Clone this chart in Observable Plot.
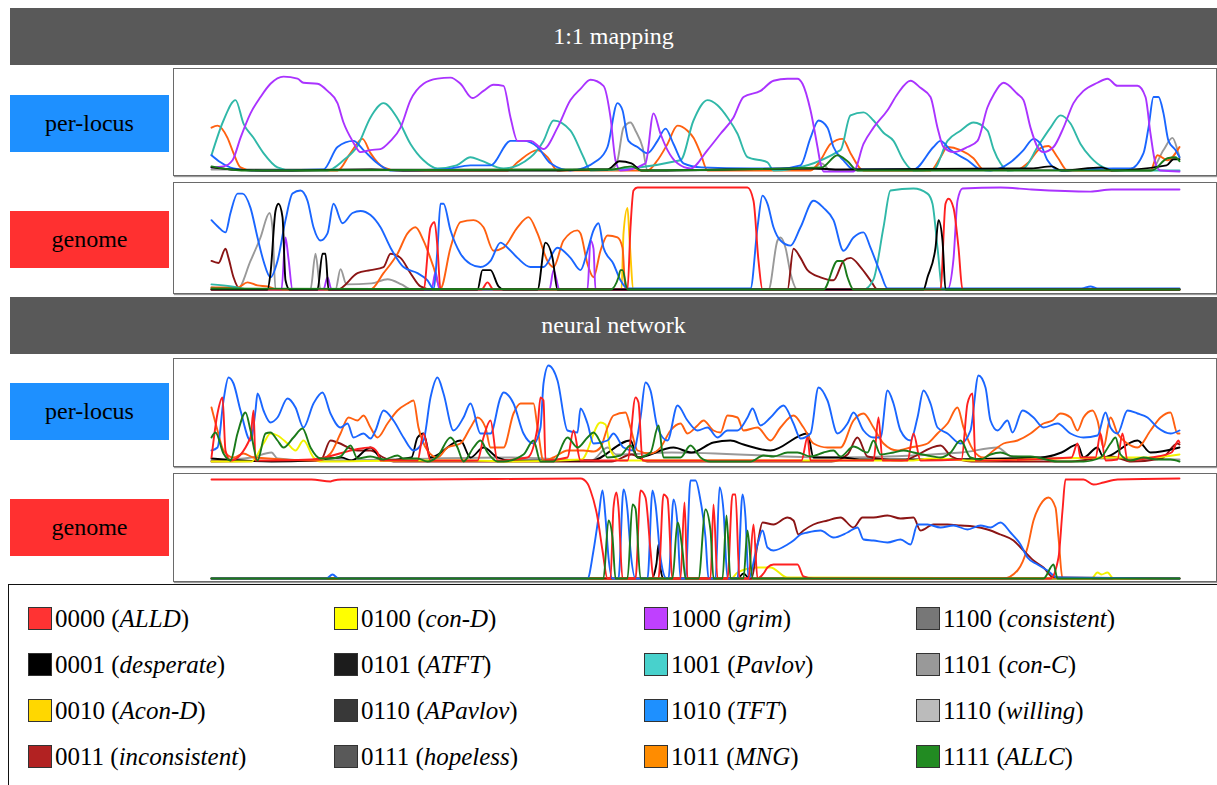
<!DOCTYPE html>
<html><head><meta charset="utf-8">
<script src="https://cdn.jsdelivr.net/npm/d3@7"></script>
<script src="https://cdn.jsdelivr.net/npm/@observablehq/plot@0.6"></script>
<style>
body{margin:0;background:#fff;font-family:"Liberation Serif","Times New Roman",serif;}
#page{position:relative;width:1217px;height:785px;overflow:hidden;background:#fff;}
.hdr{position:absolute;left:10px;width:1207px;height:57px;background:#595959;color:#fff;font-size:24px;display:flex;align-items:center;justify-content:center;}
.lab{position:absolute;left:10px;width:159px;height:57px;font-size:24px;display:flex;align-items:center;justify-content:center;color:#000;}
.panel{position:absolute;left:173px;width:1044px;}
.panel svg{position:absolute;left:0;top:0;}
.frame{position:absolute;left:0;top:0;right:0;bottom:0;border:1px solid #6a6a6a;box-shadow:1px 1px 1px #9a9a9a;pointer-events:none;}
#legend{position:absolute;left:8px;top:584px;width:1215px;height:210px;border:1px solid #111;box-sizing:border-box;}
.item{position:absolute;height:24px;}
.sw{position:absolute;left:0;top:0;width:22px;height:21px;border:1.5px solid #333;}
.txt{position:absolute;left:27px;top:-3px;font-size:25px;white-space:nowrap;color:#000;line-height:30px;}
</style></head>
<body><div id="page"></div>
<script>
// ---------- strategies (legend) ----------
const codes = ["0000","0001","0010","0011","0100","0101","0110","0111","1000","1001","1010","1011","1100","1101","1110","1111"];
const names = ["ALLD","desperate","Acon-D","inconsistent","con-D","ATFT","APavlov","hopeless","grim","Pavlov","TFT","MNG","consistent","con-C","willing","ALLC"];
const swatchColors = ["#ff3333","#000000","#ffd700","#b22222","#ffff00","#1c1c1c","#383838","#595959","#bf40ff","#48d1cc","#1e90ff","#ff8c00","#777777","#999999","#bbbbbb","#228b22"];
const lineColors   = ["#ff2020","#000000","#ffc800","#8b1515","#f2f200","#1c1c1c","#383838","#595959","#aa33ff","#30b8a8","#1a66ff","#ff6010","#777777","#999999","#bbbbbb","#1a7a1a"];

// ---------- panel 1 : 1:1 mapping, per-locus ----------
const p1_grim = [[0,.04],[12,.05],[21,.11],[29,.33],[39,.57],[49,.73],[59,.86],[72,.93],[86,.91],[92,.87],[106,.86],[116,.79],[126,.67],[132,.48],[141,.30],[149,.19],[159,.21],[169,.22],[179,.30],[189,.43],[199,.70],[212,.86],[226,.91],[239,.92],[249,.86],[261,.72],[272,.79],[282,.85],[292,.84],[299,.53],[306,.30],[319,.30],[332,.22],[346,.43],[359,.70],[369,.81],[379,.90],[392,.84],[399,.53],[404,.11],[409,.01],[434,.08],[442,.57],[449,.37],[456,.21],[466,.08],[479,.03],[496,.21],[509,.37],[522,.53],[532,.73],[549,.79],[562,.89],[576,.91],[586,.91],[591,.86],[599,.60],[606,.24],[609,.08],[612,0],[642,0],[652,.27],[662,.43],[676,.60],[686,.76],[699,.89],[709,.82],[719,.73],[726,.43],[732,.24],[742,.19],[756,.24],[766,.30],[776,.63],[782,.75],[792,.87],[806,.76],[812,.70],[819,.43],[826,.24],[832,.19],[842,.24],[852,.43],[862,.67],[872,.79],[886,.87],[896,.91],[906,.84],[926,.84],[934,.73],[939,.37],[944,.08],[949,.01],[968,0]];
const p1_pavlov = [[0,.16],[12,.50],[24,.70],[32,.47],[42,.33],[52,.18],[66,.04],[80,.01],[116,.01],[132,.11],[146,.25],[159,.53],[172,.67],[186,.52],[199,.27],[212,.11],[226,.03],[245,.06],[259,.14],[269,.11],[292,.03],[319,.14],[332,.30],[342,.50],[359,.40],[372,.14],[379,.01],[469,.11],[482,.50],[496,.70],[506,.65],[516,.53],[526,.37],[536,.14],[556,.09],[562,.01],[629,.21],[639,.55],[652,.58],[662,.50],[672,.38],[682,.30],[692,.11],[702,.01],[722,.02],[736,.30],[749,.40],[762,.48],[776,.40],[782,.22],[789,.08],[796,.01],[812,.03],[826,.24],[839,.43],[849,.55],[859,.47],[869,.27],[879,.14],[892,.04],[905,.01],[968,.01]];
const p1_tft = [[0,.16],[9,.09],[22,.03],[40,.01],[112,.02],[126,.24],[142,.30],[152,.21],[166,.08],[179,.01],[232,.02],[259,.06],[279,.06],[299,.30],[312,.30],[326,.24],[339,.08],[359,.01],[386,.11],[396,.24],[406,.67],[411,.60],[417,.30],[426,.24],[436,.18],[446,.30],[454,.42],[462,.27],[472,.08],[490,.04],[540,.03],[569,.03],[589,.06],[599,.33],[607,.50],[616,.43],[622,.24],[632,.11],[642,.02],[702,.02],[722,.24],[729,.30],[739,.21],[756,.11],[769,.02],[779,.01],[799,.09],[812,.21],[822,.32],[829,.27],[836,.11],[849,.01],[902,.03],[919,.03],[932,.18],[937,.43],[942,.73],[947,.73],[952,.57],[957,.30],[964,.21],[968,.14]];
const p1_mng = [[0,.43],[6,.45],[16,.33],[22,.18],[29,.04],[40,.01],[126,.01],[139,.18],[151,.32],[159,.18],[172,.04],[185,.01],[296,.01],[306,.09],[326,.21],[336,.14],[346,.01],[436,.01],[446,.11],[456,.27],[466,.45],[476,.40],[482,.33],[489,.18],[496,.01],[599,.01],[609,.11],[619,.27],[631,.32],[639,.18],[652,.01],[719,.01],[729,.14],[736,.24],[749,.21],[762,.13],[772,.02],[806,.02],[816,.08],[829,.23],[837,.25],[846,.14],[856,.01],[939,.01],[946,.16],[956,.11],[968,.24]];
const p1_conC = [[0,.02],[400,.02],[406,.11],[412,.43],[419,.48],[424,.40],[431,.24],[436,.01],[600,.02],[610,.08],[619,.01],[940,.02],[952,.21],[961,.33],[966,.21],[968,.14]];
const p1_desperate = [[0,.04],[20,.02],[60,.01],[160,.02],[200,.01],[290,.01],[340,.01],[380,.02],[396,.02],[408,.10],[420,.08],[430,.01],[600,.03],[630,.02],[820,.03],[840,.05],[850,.01],[890,.04],[900,.01],[955,.06],[962,.12],[968,.12]];
const p1_allc = [[0,.05],[30,.01],[400,.02],[420,.05],[430,.01],[610,.04],[626,.16],[636,.10],[646,.01],[940,.01],[956,.13],[964,.14],[968,.10]];

// ---------- panel 2 : 1:1 mapping, genome ----------
const p2_tft = [[0,.68],[7,.61],[14,.56],[19,.75],[26,.94],[31,.94],[39,.80],[46,.51],[52,.28],[59,.12],[66,.28],[74,.68],[81,.94],[89,.97],[96,.87],[102,.61],[109,.48],[116,.55],[122,.84],[131,.65],[141,.75],[149,.77],[159,.73],[169,.61],[179,.41],[192,.22],[206,.16],[216,.09],[222,.01],[226,.40],[229,.84],[232,.84],[239,.58],[249,.35],[259,.25],[269,.22],[279,.28],[289,.46],[296,.41],[306,.31],[319,.22],[332,.22],[346,.41],[359,.31],[369,.19],[376,.38],[382,.58],[387,.65],[392,.41],[402,.25],[409,.09],[416,.01],[539,.01],[546,.61],[551,.92],[556,.84],[562,.61],[569,.48],[579,.43],[589,.61],[602,.87],[612,.80],[622,.68],[632,.38],[642,.51],[652,.56],[659,.41],[669,.16],[676,.01],[870,.01],[879,.03],[886,.01],[968,.01]];
const p2_alld = [[0,0],[212,0],[219,.61],[223,.66],[226,.41],[229,0],[270,0],[276,.07],[282,0],[416,0],[419,.61],[422,.97],[426,1],[480,1],[536,1],[542,.87],[547,.28],[551,0],[729,0],[734,.84],[737,.89],[742,.80],[747,.41],[751,0],[968,0]];
const p2_pavlov = [[0,.05],[20,.03],[40,0],[652,0],[662,.10],[672,.61],[679,.97],[702,.99],[716,.94],[721,.84],[726,.41],[731,0],[968,0]];
const p2_grim = [[0,0],[70,0],[74,.51],[77,.30],[81,0],[112,0],[116,.12],[120,0],[220,0],[224,.17],[228,0],[338,0],[342,.19],[348,0],[376,0],[379,.48],[382,.40],[384,0],[736,0],[742,.30],[746,.87],[751,.99],[789,1],[820,.98],[879,.96],[900,.98],[940,.98],[968,.98]];
const p2_mng = [[0,.02],[26,.02],[36,.07],[46,.04],[56,.03],[66,0],[159,0],[172,.16],[186,.35],[196,.55],[204,.61],[212,.48],[222,.22],[229,.01],[239,.41],[249,.66],[262,.68],[272,.61],[282,.38],[292,.41],[306,.61],[317,.71],[326,.55],[336,.28],[342,.22],[352,.48],[366,.58],[369,.55],[376,.25],[382,.12],[389,.38],[396,.53],[406,.51],[411,.41],[414,0],[968,0]];
const p2_desperate = [[0,0],[56,0],[59,.16],[64,.77],[67,.84],[71,.71],[74,.09],[78,0],[106,0],[111,.35],[114,.35],[117,0],[266,0],[271,.19],[279,.19],[287,.03],[292,0],[326,0],[334,.46],[341,.31],[346,0],[712,0],[716,.12],[724,.41],[727,.68],[731,.48],[734,0],[968,0]];
const p2_conC = [[0,.02],[26,0],[39,.28],[49,.51],[58,.75],[61,.60],[64,0],[99,0],[104,.35],[109,0],[124,0],[129,.20],[135,.05],[160,.06],[176,.10],[190,.05],[200,0],[557,0],[566,.48],[569,.51],[574,.41],[579,.16],[586,0],[968,0]];
const p2_inconsistent = [[0,.28],[7,.26],[14,.40],[17,.31],[22,.12],[29,0],[126,0],[146,.16],[159,.19],[172,.22],[179,.35],[189,.31],[199,.16],[209,.03],[220,0],[576,0],[582,.40],[589,.31],[596,.19],[609,.12],[622,.09],[632,.28],[639,.31],[649,.22],[659,.09],[666,0],[968,0]];
const p2_allc = [[0,.01],[399,0],[407,.12],[409,.19],[411,.19],[416,0],[612,0],[626,.28],[631,.28],[636,.12],[642,0],[968,0]];
const p2_aconD = [[0,0],[410,0],[412,.55],[416,.80],[418,.50],[422,0],[968,0]];

// ---------- panel 3 : neural network, per-locus ----------
const p3_tft = [[0,.12],[6,.15],[12,.62],[17,.85],[22,.79],[29,.52],[39,.22],[44,.52],[46,.69],[52,.52],[59,.40],[66,.45],[76,.64],[84,.55],[92,.35],[102,.59],[111,.70],[119,.49],[129,.35],[136,.39],[142,.25],[152,.29],[159,.24],[164,.32],[172,.52],[182,.42],[192,.25],[202,.12],[212,.22],[219,.65],[226,.85],[232,.69],[242,.32],[252,.45],[259,.59],[269,.29],[279,.29],[289,.65],[292,.70],[302,.59],[312,.29],[322,.19],[329,.35],[332,.79],[337,.97],[346,.82],[356,.32],[366,.30],[369,.54],[376,.39],[382,.19],[396,.22],[402,.29],[412,.15],[422,.12],[429,.45],[434,.80],[439,.72],[446,.35],[456,.22],[466,.57],[476,.42],[486,.32],[496,.35],[506,.25],[516,.32],[526,.32],[536,.45],[541,.54],[549,.37],[559,.45],[572,.57],[582,.39],[589,.24],[599,.29],[607,.75],[616,.62],[626,.29],[636,.39],[642,.50],[652,.32],[662,.25],[669,.25],[676,.72],[682,.59],[689,.32],[699,.22],[706,.45],[712,.72],[719,.59],[726,.35],[736,.29],[749,.19],[759,.32],[767,.87],[774,.75],[779,.42],[786,.32],[796,.42],[801,.30],[811,.52],[822,.45],[832,.35],[846,.39],[859,.29],[872,.25],[886,.27],[894,.50],[899,.35],[906,.29],[916,.52],[926,.49],[936,.45],[946,.35],[959,.29],[968,.32]];
const p3_mng = [[0,.55],[6,.32],[12,.12],[22,.05],[32,.09],[42,.05],[106,.02],[119,.09],[129,.29],[137,.45],[146,.42],[152,.47],[159,.35],[166,.25],[176,.39],[186,.52],[196,.59],[202,.62],[207,.35],[216,.12],[226,.05],[236,.15],[249,.19],[259,.35],[266,.45],[274,.35],[279,.15],[292,.15],[302,.49],[309,.59],[322,.59],[326,.35],[332,.02],[342,.05],[356,.12],[372,.12],[382,.11],[389,.15],[396,.35],[402,.47],[414,.50],[419,.35],[426,.12],[439,.09],[449,.15],[459,.32],[469,.39],[476,.29],[486,.37],[492,.42],[502,.32],[509,.30],[516,.47],[526,.45],[532,.32],[546,.35],[559,.22],[569,.35],[582,.47],[592,.35],[602,.19],[616,.15],[629,.15],[642,.42],[652,.49],[662,.35],[672,.19],[686,.12],[699,.15],[716,.19],[726,.29],[736,.39],[746,.55],[752,.35],[762,.12],[772,.05],[782,.12],[792,.19],[806,.22],[819,.29],[832,.39],[841,.42],[849,.49],[859,.45],[866,.32],[872,.45],[881,.52],[886,.42],[892,.15],[899,.45],[906,.29],[916,.19],[926,.15],[939,.32],[949,.45],[959,.50],[966,.29],[968,.29]];
const p3_alld = [[0,.05],[6,.49],[11,.65],[14,.12],[19,.02],[39,.25],[42,.52],[44,.02],[59,.02],[100,.03],[159,.15],[166,.10],[169,.02],[206,.02],[212,.29],[219,.02],[266,.02],[272,.25],[279,.42],[286,.02],[316,.05],[326,.35],[329,.65],[332,.62],[334,.02],[356,.05],[362,.32],[369,.02],[416,.02],[424,.65],[427,.60],[431,.02],[590,.02],[596,.25],[599,.02],[662,.02],[667,.45],[671,.02],[696,.02],[702,.29],[709,.02],[750,.03],[756,.59],[761,.69],[764,.02],[860,.05],[866,.19],[869,.05],[884,.05],[889,.29],[894,.02],[906,.03],[911,.29],[916,.02],[940,.05],[960,.10],[967,.22],[968,.20]];
const p3_allc = [[0,.25],[4,.30],[12,.09],[19,.02],[26,.29],[34,.50],[39,.32],[46,.02],[54,.29],[59,.30],[66,.22],[72,.15],[82,.25],[91,.34],[99,.15],[109,.04],[119,.04],[129,.06],[139,.17],[146,.04],[159,.06],[172,.03],[186,.07],[192,.04],[206,.04],[216,.01],[226,.06],[239,.25],[246,.15],[252,.01],[262,.15],[269,.22],[276,.10],[286,.01],[292,.01],[312,.08],[322,.22],[329,.01],[342,.01],[356,.25],[366,.15],[376,.25],[382,.30],[389,.20],[396,.05],[409,.07],[419,.17],[426,.05],[439,.10],[447,.37],[452,.05],[469,.05],[479,.17],[489,.05],[499,.01],[512,.01],[526,.01],[539,.01],[552,.07],[562,.06],[576,.10],[586,.10],[599,.06],[612,.10],[622,.12],[629,.06],[642,.16],[656,.10],[662,.22],[669,.08],[682,.10],[692,.12],[702,.10],[716,.07],[729,.05],[739,.10],[749,.22],[759,.05],[769,.03],[779,.08],[789,.10],[802,.06],[819,.06],[846,.01],[872,.01],[889,.05],[899,.19],[904,.25],[909,.08],[919,.02],[932,.05],[946,.03],[959,.03],[968,.01]];
const p3_conD = [[0,.01],[40,.01],[52,.19],[59,.29],[66,.27],[76,.19],[84,.12],[92,.22],[102,.05],[109,.01],[200,.02],[260,.02],[300,.01],[370,.03],[389,.40],[394,.38],[399,.12],[409,.02],[700,.02],[720,.04],[760,.02],[900,.05],[940,.05],[968,.08]];
const p3_desperate = [[0,.04],[60,.01],[100,.02],[130,.05],[140,.02],[159,.15],[172,.02],[200,.05],[206,.25],[212,.29],[219,.05],[249,.22],[259,.05],[272,.15],[286,.05],[300,.02],[380,.02],[419,.22],[426,.05],[462,.15],[480,.10],[502,.20],[519,.22],[532,.18],[559,.12],[596,.29],[602,.05],[629,.05],[650,.03],[700,.03],[829,.05],[850,.10],[866,.18],[872,.05],[886,.15],[892,.05],[926,.22],[939,.10],[968,.15]];
const p3_inconsistent = [[0,.01],[109,.02],[119,.22],[126,.20],[146,.12],[159,.12],[172,.05],[182,.01],[400,.01],[420,.08],[436,.01],[620,.01],[636,.08],[646,.25],[656,.06],[690,.02],[729,.17],[740,.06],[760,.01],[860,.01],[900,.06],[920,.01],[950,.04],[966,.19],[968,.18]];
const p3_conC = [[0,.02],[40,.05],[60,.10],[66,.04],[100,.02],[300,.05],[380,.02],[396,.15],[405,.08],[460,.10],[620,.05],[750,.10],[786,.15],[800,.06],[968,.03]];

// ---------- panel 4 : neural network, genome ----------
const p4_alld = [[0,.99],[50,.99],[100,.99],[119,.97],[122,.98],[130,.99],[200,.99],[369,1],[376,.95],[379,.88],[386,.61],[391,.28],[396,0],[399,0],[402,.71],[405,.86],[407,.71],[411,0],[424,0],[429,.88],[434,.81],[439,.28],[442,0],[447,0],[452,.84],[456,.80],[461,0],[469,0],[473,.76],[476,0],[499,0],[502,.74],[506,0],[516,0],[521,.84],[524,.84],[528,0],[537,0],[542,.54],[546,0],[552,.05],[556,.11],[562,.14],[576,.14],[586,.14],[592,.02],[602,0],[839,0],[847,.21],[851,.68],[854,.99],[872,.99],[882,.94],[892,.96],[906,.99],[968,1]];
const p4_tft = [[0,0],[115,0],[121,.04],[127,0],[376,0],[382,.28],[387,.61],[391,.88],[394,.61],[397,.21],[401,0],[407,0],[412,.89],[416,.68],[419,.28],[424,0],[436,0],[441,.88],[444,.74],[449,.21],[455,0],[457,0],[462,.79],[466,.54],[469,0],[474,0],[479,.98],[484,.98],[489,.78],[494,.41],[497,0],[504,0],[508,.91],[512,.68],[516,0],[526,0],[531,.84],[534,.61],[537,0],[546,.34],[551,.48],[556,.31],[562,.28],[576,.34],[582,.38],[589,.44],[596,.46],[609,.48],[622,.41],[636,.46],[646,.51],[652,.39],[662,.38],[676,.36],[689,.39],[699,.34],[706,.54],[716,.54],[729,.51],[742,.53],[756,.49],[769,.53],[779,.51],[789,.56],[799,.46],[809,.34],[816,.21],[826,.14],[836,.08],[846,.01],[968,0]];
const p4_allc = [[0,0],[392,0],[397,.58],[401,.41],[404,0],[416,0],[421,.74],[424,.70],[429,0],[461,0],[466,.56],[471,.28],[474,0],[487,0],[494,.69],[499,.48],[502,0],[511,0],[515,.63],[519,0],[532,0],[536,.48],[541,0],[832,0],[842,.14],[846,0],[968,0]];
const p4_inconsistent = [[0,0],[540,0],[546,.34],[551,.56],[562,.54],[576,.61],[582,.58],[587,.44],[592,.48],[602,.54],[616,.58],[629,.61],[642,.51],[651,.61],[662,.61],[676,.63],[689,.60],[702,.61],[709,.48],[722,.54],[736,.54],[749,.53],[762,.52],[776,.49],[789,.44],[802,.38],[812,.28],[822,.18],[832,.11],[842,.01],[968,0]];
const p4_mng = [[0,0],[792,0],[806,.08],[816,.31],[822,.58],[829,.74],[837,.81],[844,.71],[847,.41],[851,0],[968,0]];
const p4_conD = [[0,0],[520,0],[526,.06],[546,.11],[559,.11],[576,.01],[880,0],[886,.06],[890,.04],[896,.06],[902,0],[968,0]];
const p4_desperate = [[0,0],[440,0],[445,.15],[447,.34],[449,.10],[452,0],[526,0],[532,.05],[538,0],[968,0]];

// ---------- build ----------
const page = document.getElementById("page");
function el(tag, cls, style, html){const e=document.createElement(tag); if(cls)e.className=cls; if(style)e.style.cssText=style; if(html!==undefined)e.innerHTML=html; page.appendChild(e); return e;}

el("div","hdr","top:8px;","1:1 mapping");
el("div","hdr","top:297px;","neural network");
el("div","lab","top:95px;background:#1e90ff;","per-locus");
el("div","lab","top:211px;background:#ff3030;","genome");
el("div","lab","top:383px;background:#1e90ff;","per-locus");
el("div","lab","top:499px;background:#ff3030;","genome");

function panel(top, h, mt, mb, series){
  const rows = [];
  for (const [code, pts] of series) for (const [x, y] of pts) rows.push({code, x, y});
  const box = el("div","panel",`top:${top}px;height:${h}px;`);
  const svg = Plot.plot({
    width:1044, height:h, marginLeft:38, marginRight:38, marginTop:mt, marginBottom:mb,
    style:{background:"transparent"},
    x:{domain:[0,968], axis:null},
    y:{domain:[0,1], axis:null},
    color:{domain:codes, range:lineColors},
    marks:[Plot.line(rows,{x:"x", y:"y", z:"code", stroke:"code", strokeWidth:1.9, curve:"monotone-x"})]
  });
  box.appendChild(svg);
  const fr=document.createElement("div"); fr.className="frame"; box.appendChild(fr);
}

panel(68,108,1,5,[["1101",p1_conC],["1011",p1_mng],["1001",p1_pavlov],["1010",p1_tft],["1000",p1_grim],["0001",p1_desperate],["1111",p1_allc]]);
panel(182,112,5,5,[["1101",p2_conC],["0011",p2_inconsistent],["0010",p2_aconD],["1011",p2_mng],["1001",p2_pavlov],["1000",p2_grim],["1010",p2_tft],["0000",p2_alld],["0001",p2_desperate],["1111",p2_allc]]);
panel(358,109,4,5,[["1101",p3_conC],["0011",p3_inconsistent],["0001",p3_desperate],["0100",p3_conD],["1011",p3_mng],["1010",p3_tft],["0000",p3_alld],["1111",p3_allc]]);
panel(473,109,5,4,[["0001",p4_desperate],["0100",p4_conD],["1011",p4_mng],["0011",p4_inconsistent],["1010",p4_tft],["0000",p4_alld],["1111",p4_allc]]);

// legend
const lg = el("div",null,"");
lg.id="legend";
const colX=[19,325,635,907], rowY=[22,68,114,160];
codes.forEach((c,i)=>{
  const col=Math.floor(i/4), row=i%4;
  const it=document.createElement("div"); it.className="item";
  it.style.left=colX[col]+"px"; it.style.top=rowY[row]+"px";
  it.innerHTML=`<div class="sw" style="background:${swatchColors[i]}"></div><div class="txt">${c} (<i>${names[i]}</i>)</div>`;
  lg.appendChild(it);
});
</script>
</body></html>
